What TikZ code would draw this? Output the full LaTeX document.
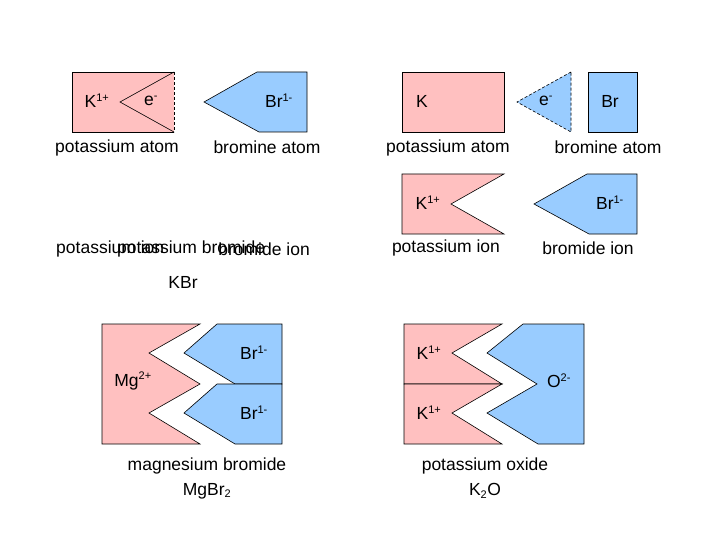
\documentclass[tikz,border=0pt]{standalone}
\usepackage{fontspec}
\setmainfont{Liberation Sans}
\definecolor{pk}{HTML}{FFC0C0}
\definecolor{bl}{HTML}{99CCFF}
\newcommand{\chsup}[1]{\textsuperscript{\fontsize{11}{13}\selectfont #1}}
\begin{document}
\begin{tikzpicture}[x=1pt,y=-1pt,
  pkf/.style={fill=pk,draw=black,line width=0.6pt},
  blf/.style={fill=bl,draw=black,line width=0.6pt},
  txt/.style={font=\fontsize{17.5}{21}\selectfont,inner sep=0pt},
  dsh/.style={dashed,dash pattern=on 3pt off 2pt,line width=0.6pt}]
\useasboundingbox (0,0) rectangle (720,540);
% top-left
\fill[pk] (72,72) rectangle (174,132);
\draw[line width=0.6pt] (174,72) -- (72,72) -- (72,132) -- (174,132);
\draw[line width=0.6pt] (174,72) -- (120,102) -- (174,132);
\draw[dsh] (174,72) -- (174,132);
\node[txt] (k1) at (97,101) {K\chsup{1+}};
\node[txt] (e1) at (151,101) {e\chsup{-}};
\draw[blf] (204,102) -- (257,72) -- (307,72) -- (307,132) -- (259,132) -- cycle;
\node[txt] (br1) at (279,101) {Br\chsup{1-}};
\node[txt] (l1) at (117,148) {potassium atom};
\node[txt] (l2) at (267,147) {bromine atom};
\node[txt,anchor=west] (l3) at (56,249) {potassium ion};
\node[txt,anchor=west] (l4) at (117,249) {potassium bromide};
\node[txt,anchor=east] (l5) at (310,249) {bromide ion};
\node[txt] (kbr) at (183,282) {KBr};
% top-right
\draw[pkf] (402,72) rectangle (504,132);
\node[txt] (k2) at (422,101) {K};
\draw[dsh,fill=bl] (571,72) -- (517,102) -- (571,132) -- cycle;
\node[txt] (e2) at (546,101) {e\chsup{-}};
\draw[blf] (588,72) rectangle (637,132);
\node[txt] (br2) at (610,101) {Br};
\node[txt] (l6) at (448,148) {potassium atom};
\node[txt] (l7) at (608,147) {bromine atom};
\draw[pkf] (402,174) -- (504,174) -- (451,204) -- (504,234) -- (402,234) -- cycle;
\node[txt] (k3) at (428,203) {K\chsup{1+}};
\draw[blf] (534,204) -- (587,174) -- (637,174) -- (637,234) -- (589,234) -- cycle;
\node[txt] (br3) at (610,203) {Br\chsup{1-}};
\node[txt] (l8) at (446,248) {potassium ion};
\node[txt] (l9) at (588,248) {bromide ion};
% MgBr2
\draw[pkf] (102,324) -- (200,324) -- (149,353) -- (200,384) -- (149,413) -- (200,444) -- (102,444) -- cycle;
\draw[blf] (217,324) -- (282,324) -- (282,384) -- (235,384) -- (184,353) -- cycle;
\draw[blf] (217,384) -- (282,384) -- (282,444) -- (235,444) -- (184,413) -- cycle;
\node[txt] (mg) at (133,381) {Mg\chsup{2+}};
\node[txt] (br4) at (254,353) {Br\chsup{1-}};
\node[txt] (br5) at (254,413) {Br\chsup{1-}};
\node[txt] (l10) at (207,466) {magnesium bromide};
\node[txt] (l11) at (207,491) {MgBr\textsubscript{\fontsize{11}{13}\selectfont 2}};
% K2O
\draw[pkf] (404,324) -- (502,324) -- (452,353) -- (502,384) -- (404,384) -- cycle;
\draw[pkf] (404,384) -- (502,384) -- (452,413) -- (502,444) -- (404,444) -- cycle;
\draw[blf] (523,324) -- (584,324) -- (584,444) -- (538,444) -- (487,413) -- (537,384) -- (487,353) -- cycle;
\node[txt] (k4) at (429,353) {K\chsup{1+}};
\node[txt] (k5) at (429,413) {K\chsup{1+}};
\node[txt] (o) at (559,381) {O\chsup{2-}};
\node[txt] (l12) at (485,466) {potassium oxide};
\node[txt] (l13) at (485,491) {K\textsubscript{\fontsize{11}{13}\selectfont 2}O};
\end{tikzpicture}
\end{document}
